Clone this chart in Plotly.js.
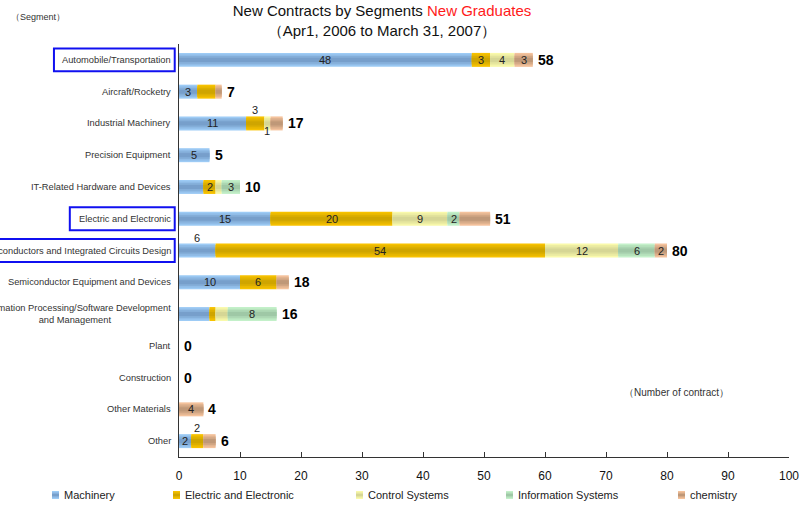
<!DOCTYPE html>
<html>
<head>
<meta charset="utf-8">
<script src="https://cdn.plot.ly/plotly-3.0.1.min.js"></script>
<style>
  html, body { margin: 0; padding: 0; background: #ffffff; }
  #chart { width: 800px; height: 506px; }
</style>
</head>
<body>
<div id="chart"></div>
<script>
// Segments, top to bottom
const categories = [
  'Automobile/Transportation',
  'Aircraft/Rocketry',
  'Industrial Machinery',
  'Precision Equipment',
  'IT-Related Hardware and Devices',
  'Electric and Electronic',
  'Semiconductors and Integrated Circuits Design',
  'Semiconductor Equipment and Devices',
  'Information Processing/Software Development<br>and Management',
  'Plant',
  'Construction',
  'Other Materials',
  'Other'
];

// New-graduate contracts by field of study
const machinery = [48, 3, 11, 5, 4, 15, 6, 10, 5, 0, 0, 0, 2];
const electric  = [3, 3, 3, 0, 2, 20, 54, 6, 1, 0, 0, 0, 2];
const control   = [4, 0, 1, 0, 1, 9, 12, 0, 2, 0, 0, 0, 0];
const infoSys   = [0, 0, 0, 0, 3, 2, 6, 0, 8, 0, 0, 0, 0];
const chemistry = [3, 1, 2, 0, 0, 5, 2, 2, 0, 0, 0, 4, 2];

const seriesNames = ['Machinery', 'Electric and Electronic', 'Control Systems', 'Information Systems', 'chemistry'];
const seriesValues = [machinery, electric, control, infoSys, chemistry];

// Segment labels with a highlight frame
const framedSegments = ['Automobile/Transportation', 'Electric and Electronic', 'Semiconductors and Integrated Circuits Design'];

// Where each segment value label sits: c = centred, a = above the bar, b = below, '' = not shown
const labelPlacement = [
  ['c', 'c', 'c', 'c', '', 'c', 'a', 'c', '', '', '', '', 'c'],
  ['c', '', 'a', '', 'c', 'c', 'c', 'c', '', '', '', '', 'a'],
  ['c', '', 'b', '', '', 'c', 'c', '', '', '', '', '', ''],
  ['', '', '', '', 'c', 'c', 'c', '', 'c', '', '', '', ''],
  ['c', '', '', '', '', '', 'c', '', '', '', '', 'c', '']
];

// Edge / centre colours of the shaded bars
const edgeColors = ['#9dcbf5', '#f7c200', '#f9f9aa', '#c3f0c9', '#f4c29c'];
const midColors  = ['#779fcb', '#cfa500', '#d6d695', '#9fc8a6', '#bf9878'];

const FONT = 'Liberation Sans, Arial, sans-serif';

// Plot frame in pixels (used for the legend row and frames in the left margin)
const M = { l: 179, r: 11, t: 44, b: 49 };
const W = 800, H = 506;
const PW = W - M.l - M.r, PH = H - M.t - M.b;
const px2x = (px) => (px - M.l) / PW;
const py2y = (py) => 1 - (py - M.t) / PH;

function hexToRgb(h) {
  return [parseInt(h.slice(1, 3), 16), parseInt(h.slice(3, 5), 16), parseInt(h.slice(5, 7), 16)];
}
function mix(a, b, t) {
  const A = hexToRgb(a), B = hexToRgb(b);
  return 'rgb(' + A.map((v, i) => Math.round(v + (B[i] - v) * t)).join(',') + ')';
}

// Running bases so the segments sit end to end
const bases = seriesValues.map(() => categories.map(() => 0));
const totals = categories.map(() => 0);
seriesValues.forEach((vals, s) => {
  vals.forEach((v, i) => {
    bases[s][i] = totals[i];
    totals[i] += v;
  });
});

// Bars are drawn as nested layers to give a soft horizontal shading
const layerWidths = [0.44, 0.34, 0.24, 0.13];
const traces = [];
seriesValues.forEach((vals, s) => {
  layerWidths.forEach((w, k) => {
    traces.push({
      type: 'bar',
      orientation: 'h',
      y: categories,
      x: vals,
      base: bases[s],
      width: w,
      name: seriesNames[s],
      showlegend: false,
      marker: { color: mix(edgeColors[s], midColors[s], k / (layerWidths.length - 1)), line: { width: 0 } },
      hoverinfo: k === 0 ? 'name+x' : 'skip'
    });
  });
});

const annotations = [];
const shapes = [];
const n = categories.length;

// Segment names to the left of the axis
categories.forEach((c) => {
  annotations.push({
    xref: 'paper', yref: 'y', x: 0, y: c, xanchor: 'right', xshift: -6,
    text: c, showarrow: false, align: 'center',
    font: { family: FONT, size: 9.3, color: '#333333' }
  });
});

// Value labels inside the segments
seriesValues.forEach((vals, s) => {
  vals.forEach((v, i) => {
    const p = labelPlacement[s][i];
    if (!v || !p) return;
    annotations.push({
      xref: 'x', yref: 'y', x: bases[s][i] + v / 2, y: categories[i],
      text: String(v), showarrow: false,
      yshift: p === 'a' ? 13 : (p === 'b' ? -8 : 0),
      font: { family: FONT, size: 11, color: '#222222' }
    });
  });
});

// Totals at the end of each bar
totals.forEach((t, i) => {
  annotations.push({
    xref: 'x', yref: 'y', x: t, y: categories[i], xanchor: 'left', xshift: 3,
    text: '<b>' + t + '</b>', showarrow: false,
    font: { family: FONT, size: 14, color: '#000000' }
  });
});

annotations.push({
  xref: 'paper', yref: 'paper', x: px2x(9), y: py2y(17), xanchor: 'left', yanchor: 'middle',
  text: '（Segment）', showarrow: false,
  font: { family: FONT, size: 9, color: '#333333' }
});
annotations.push({
  xref: 'paper', yref: 'paper', x: px2x(622), y: py2y(392), xanchor: 'left', yanchor: 'middle',
  text: '（Number of contract）', showarrow: false,
  font: { family: FONT, size: 10, color: '#333333' }
});

// Frames around highlighted segment names
framedSegments.forEach((c) => {
  const i = categories.indexOf(c);
  const yc = 1 - (i + 0.5) / n;
  shapes.push({
    type: 'rect', xref: 'paper', yref: 'paper',
    x0: c.length > 30 ? -0.297 : (c.length > 24 ? -0.205 : -0.179), x1: -0.007,
    y0: yc - 0.36 / n, y1: yc + 0.36 / n,
    line: { color: '#1010f0', width: 2 }, fillcolor: 'rgba(0,0,0,0)'
  });
});

// Legend row along the bottom: small shaded swatch followed by the series name
const legendTextStarts = [62, 183, 366, 516, 688];
const legendRowY = 495;
seriesNames.forEach((name, s) => {
  const tx = legendTextStarts[s];
  [[0, 4], [1, 2.6], [2, 1.2]].forEach(([k, half]) => {
    shapes.push({
      type: 'rect', xref: 'paper', yref: 'paper', layer: 'above',
      x0: px2x(tx - 10), x1: px2x(tx - 3),
      y0: py2y(legendRowY + half), y1: py2y(legendRowY - half),
      line: { width: 0 }, fillcolor: mix(edgeColors[s], midColors[s], k / 2)
    });
  });
  annotations.push({
    xref: 'paper', yref: 'paper', x: px2x(tx), y: py2y(legendRowY),
    xanchor: 'left', yanchor: 'middle', text: name, showarrow: false,
    font: { family: FONT, size: 11, color: '#222222' }
  });
});

const layout = {
  width: W,
  height: H,
  margin: { l: M.l, r: M.r, t: M.t, b: M.b, pad: 0 },
  paper_bgcolor: '#ffffff',
  plot_bgcolor: '#ffffff',
  barmode: 'overlay',
  showlegend: false,
  title: {
    text: 'New Contracts by Segments <span style="color:#ff1a1a">New Graduates</span><br>（Apr1, 2006 to March 31, 2007）',
    xref: 'container', yref: 'container', x: 382 / W, y: 1 - 16 / H,
    xanchor: 'center', yanchor: 'top',
    font: { family: FONT, size: 15, color: '#111111' }
  },
  xaxis: {
    range: [0, 100], dtick: 10, tick0: 0,
    showgrid: false, zeroline: false,
    showline: true, linecolor: '#333333', linewidth: 1,
    ticks: 'inside', ticklen: 5, tickcolor: '#333333',
    ticklabelstandoff: 8,
    tickfont: { family: FONT, size: 12, color: '#111111' },
    fixedrange: true
  },
  yaxis: {
    type: 'category', categoryorder: 'array', categoryarray: categories,
    range: [n - 0.5, -0.5],
    showgrid: false, zeroline: false,
    showline: true, linecolor: '#333333', linewidth: 1,
    showticklabels: false, ticks: '',
    fixedrange: true
  },
  annotations: annotations,
  shapes: shapes
};

Plotly.newPlot('chart', traces, layout, { displayModeBar: false, staticPlot: true });
</script>
</body>
</html>
